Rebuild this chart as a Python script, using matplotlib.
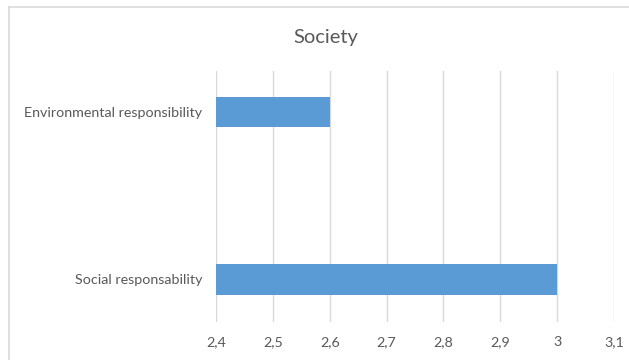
import matplotlib
matplotlib.use("Agg")
import matplotlib.pyplot as plt
from matplotlib.lines import Line2D
from matplotlib.ticker import FuncFormatter

categories = ["Social responsability", "Environmental responsibility"]
values = [3.0, 2.6]
x_ticks = [2.4, 2.5, 2.6, 2.7, 2.8, 2.9, 3.0, 3.1]
title = "Society"

W, H = 629, 360
fig = plt.figure(figsize=(W / 100, H / 100), dpi=100)
plt.rcParams["font.family"] = ["Lato", "DejaVu Sans"]

# chart-area border (top and left edges visible)
fig.add_artist(Line2D([9 / W, 9 / W], [0, 1 - 6.5 / H], transform=fig.transFigure,
                      color="#d9d9d9", lw=1.2))
fig.add_artist(Line2D([9 / W, 1], [1 - 6.5 / H, 1 - 6.5 / H], transform=fig.transFigure,
                      color="#d9d9d9", lw=1.2))

left, right = 216 / W, 614 / W
top, bottom = 1 - 71 / H, 1 - 322 / H
ax = fig.add_axes([left, bottom, right - left, top - bottom])

pos = list(range(len(categories)))
ax.barh(pos, [v - x_ticks[0] for v in values], left=x_ticks[0], height=0.18,
        color="#5b9bd5", zorder=3)
ax.set_xlim(x_ticks[0], x_ticks[-1])
ax.set_ylim(-0.254, 1.245)
ax.set_xticks(x_ticks)
ax.xaxis.set_major_formatter(FuncFormatter(lambda v, p: f"{v:g}".replace(".", ",")))
ax.set_yticks(pos)
ax.set_yticklabels(categories)
ax.grid(axis="x", color="#d9d9d9", lw=1.0, zorder=0)
for s in ax.spines.values():
    s.set_visible(False)
ax.tick_params(axis="both", length=0, labelsize=10.3, colors="#595959")
ax.tick_params(axis="x", pad=10)
ax.tick_params(axis="y", pad=10)

fig.text((292 + 360) / 2 / W, 1 - 37 / H, title, ha="center", va="center",
         fontsize=14.5, color="#595959")

fig.savefig("out.png", dpi=100)
